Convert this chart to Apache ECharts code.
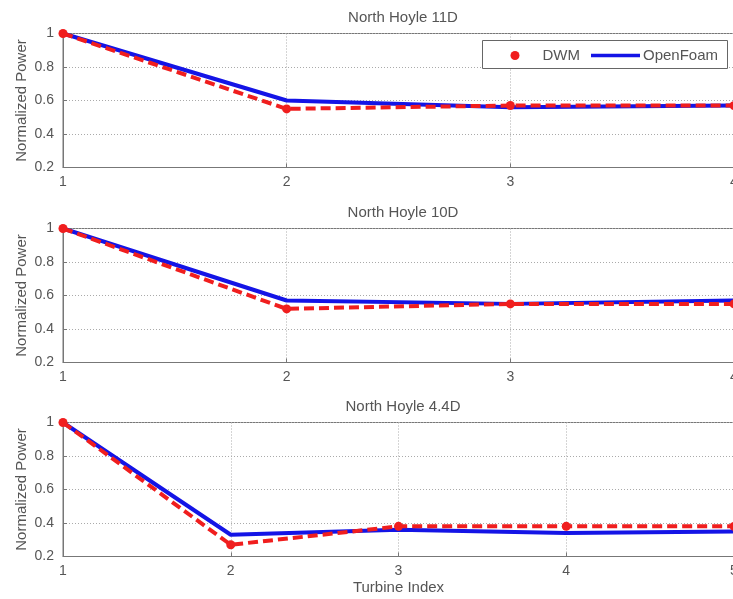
<!DOCTYPE html>
<html><head><meta charset="utf-8">
<script src="https://cdn.jsdelivr.net/npm/echarts@6/dist/echarts.min.js"></script>
<style>html,body{margin:0;padding:0;background:#fff}#c{width:733px;height:599px}</style>
</head><body><div id="c"></div>
<script>
const titles = ['North Hoyle 11D', 'North Hoyle 10D', 'North Hoyle 4.4D'];
const turbines11 = [1, 2, 3, 4];
const turbines10 = [1, 2, 3, 4];
const turbines44 = [1, 2, 3, 4, 5];
const dwm11 = [1.0, 0.55, 0.57, 0.57];
const of11 = [1.0, 0.60, 0.56, 0.57];
const dwm10 = [1.0, 0.52, 0.55, 0.55];
const of10 = [1.0, 0.57, 0.55, 0.57];
const dwm44 = [1.0, 0.27, 0.38, 0.38, 0.38];
const of44 = [1.0, 0.33, 0.36, 0.34, 0.35];
const xNames = ['', '', 'Turbine Index'];
const yName = 'Normalized Power';

const xs = [turbines11, turbines10, turbines44];
const dwm = [dwm11, dwm10, dwm44];
const ofm = [of11, of10, of44];
const tops = [33.5, 228.5, 422.5];
const FONT = 'Liberation Sans, Arial, sans-serif';
const TXT = '#555';

const chart = echarts.init(document.getElementById('c'), null, {renderer: 'canvas'});
const grids = [], xAxes = [], yAxes = [], series = [], titleArr = [];
for (let i = 0; i < 3; i++) {
  grids.push({left: 63, top: tops[i], width: 671, height: 134, show: true, borderColor: '#777', borderWidth: 1,
    backgroundColor: '#fff', containLabel: false, outerBoundsMode: 'none'});
  titleArr.push({text: titles[i], left: 398, top: tops[i] - 28.5, textAlign: 'center',
    textStyle: {fontFamily: FONT, fontSize: 15, fontWeight: 'normal', color: TXT}});
  const xs_i = xs[i];
  xAxes.push({type: 'value', gridIndex: i, min: xs_i[0], max: xs_i[xs_i.length - 1], interval: 1,
    name: xNames[i], nameLocation: 'middle', nameGap: 24, nameMoveOverlap: false,
    nameTextStyle: {fontFamily: FONT, fontSize: 15, color: TXT},
    axisLine: {show: true, lineStyle: {color: '#777'}},
    axisTick: {show: true, inside: true, length: 4, lineStyle: {color: '#777'}},
    axisLabel: {fontFamily: FONT, fontSize: 14, color: TXT, margin: 8, hideOverlap: false},
    splitLine: {show: true, lineStyle: {color: '#aaa', type: [1, 2], width: 1}}});
  yAxes.push({type: 'value', gridIndex: i, min: 0.2, max: 1, interval: 0.2,
    name: yName, nameLocation: 'middle', nameGap: 34, nameMoveOverlap: false,
    nameTextStyle: {fontFamily: FONT, fontSize: 15, color: TXT},
    axisLine: {show: true, lineStyle: {color: '#777'}},
    axisTick: {show: true, inside: true, length: 4, lineStyle: {color: '#777'}},
    axisLabel: {fontFamily: FONT, fontSize: 14, color: TXT, margin: 9,
      formatter: v => String(Math.round(v * 10) / 10)},
    splitLine: {show: true, lineStyle: {color: '#aaa', type: [1, 2], width: 1}}});
  series.push({name: 'OpenFoam', type: 'line', xAxisIndex: i, yAxisIndex: i,
    data: xs_i.map((x, k) => [x, ofm[i][k]]), symbol: 'none', silent: true,
    lineStyle: {color: '#1414e6', width: 4}, itemStyle: {color: '#1414e6'}, z: 2});
  series.push({name: 'DWM', type: 'line', xAxisIndex: i, yAxisIndex: i,
    data: xs_i.map((x, k) => [x, dwm[i][k]]), symbol: 'circle', symbolSize: 9, silent: true,
    lineStyle: {color: '#f01e1e', width: 4, type: [10, 5]}, itemStyle: {color: '#f01e1e'}, z: 3});
}

chart.setOption({
  animation: false,
  title: titleArr,
  grid: grids, xAxis: xAxes, yAxis: yAxes, series: series,
  legend: [
    {data: [{name: 'DWM', icon: 'circle'}], left: 510.5, top: 47.5, itemWidth: 9, itemHeight: 9, itemGap: 0, z: 20,
      textStyle: {fontFamily: FONT, fontSize: 15, lineHeight: 16, color: TXT, padding: [0, 0, 0, 18]}, selectedMode: false, padding: 0},
    {data: [{name: 'OpenFoam', icon: 'rect'}], left: 591, top: 47.5, itemWidth: 49, itemHeight: 3.5, itemGap: 0, z: 20,
      textStyle: {fontFamily: FONT, fontSize: 15, lineHeight: 16, color: TXT, padding: [0, 0, 0, -2]}, itemStyle: {color: '#1414e6'}, selectedMode: false, padding: 0}
  ],
  graphic: [{type: 'rect', shape: {x: 482.5, y: 40.5, width: 245, height: 28}, z: 10, silent: true,
    style: {fill: '#fff', stroke: '#666', lineWidth: 1}}]
});
</script></body></html>
